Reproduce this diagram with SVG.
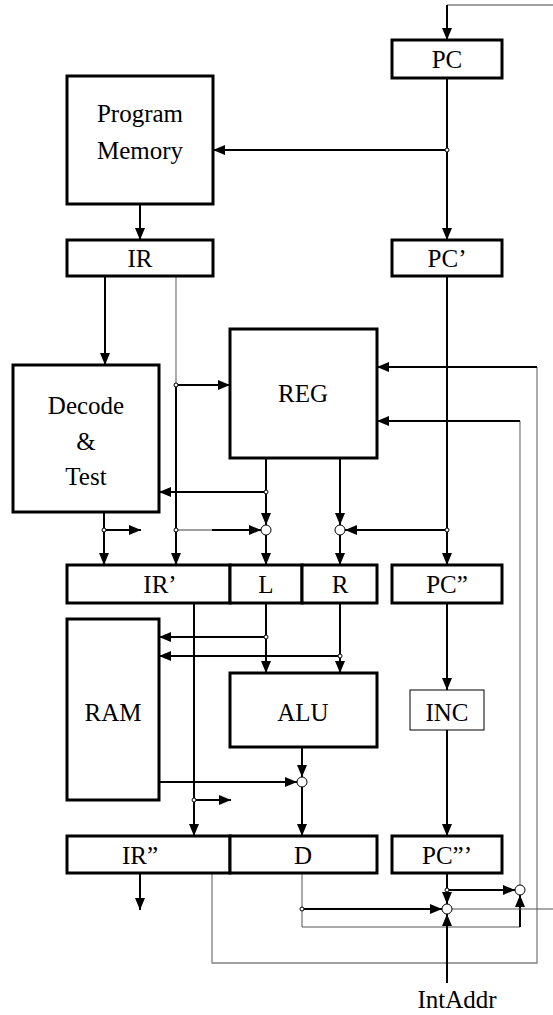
<svg xmlns="http://www.w3.org/2000/svg" width="553" height="1015" viewBox="0 0 553 1015">
<style>
.box{fill:#fff;stroke:#000;stroke-width:3}
.thinbox{fill:#fff;stroke:#000;stroke-width:1}
.w{fill:none;stroke:#000;stroke-width:2}
.g{fill:none;stroke:#808080;stroke-width:1.3}
.t{fill:none;stroke:#555;stroke-width:1}
.lbl{font-family:"Liberation Serif","Times New Roman",serif;font-size:25px;fill:#000;text-anchor:middle}
.dot{fill:#fff;stroke:#000;stroke-width:1}
.mux{fill:none;stroke:#000;stroke-width:1}
</style>
<defs>
<marker id="a" markerUnits="userSpaceOnUse" markerWidth="12" markerHeight="10" viewBox="0 0 12 10" refX="12" refY="5" orient="auto">
<path d="M0,0 L12,5 L0,10 z" fill="#000"/>
</marker>
</defs>
<rect width="553" height="1015" fill="#fff"/>
<g id="connectors">
<path class="g" d="M553,5 H447"/>
<path class="w" d="M447,5 V40" marker-end="url(#a)"/>
<path class="w" d="M447,78 V240" marker-end="url(#a)"/>
<path class="w" d="M447,150 H213" marker-end="url(#a)"/>
<path class="w" d="M140,204 V240" marker-end="url(#a)"/>
<path class="w" d="M105,276 V365" marker-end="url(#a)"/>
<path class="g" d="M176,276 V385"/>
<path class="w" d="M176,385 V565" marker-end="url(#a)"/>
<path class="w" d="M176,385 H230" marker-end="url(#a)"/>
<path class="g" d="M176,530 H212"/>
<path class="w" d="M212,530 H261" marker-end="url(#a)"/>
<path class="w" d="M266,458 V525" marker-end="url(#a)"/>
<path class="w" d="M266,535 V565" marker-end="url(#a)"/>
<path class="w" d="M266,492 H159" marker-end="url(#a)"/>
<path class="w" d="M340,458 V525" marker-end="url(#a)"/>
<path class="w" d="M340,535 V565" marker-end="url(#a)"/>
<path class="w" d="M447,276 V565" marker-end="url(#a)"/>
<path class="w" d="M447,530 H345" marker-end="url(#a)"/>
<path class="w" d="M104,512 V565" marker-end="url(#a)"/>
<path class="w" d="M104,530 H141" marker-end="url(#a)"/>
<path class="w" d="M266,603 V673" marker-end="url(#a)"/>
<path class="w" d="M266,637 H159" marker-end="url(#a)"/>
<path class="w" d="M340,603 V673" marker-end="url(#a)"/>
<path class="w" d="M340,656 H159" marker-end="url(#a)"/>
<path class="w" d="M194,603 V836" marker-end="url(#a)"/>
<path class="w" d="M194,800 H231" marker-end="url(#a)"/>
<path class="w" d="M302,747 V777" marker-end="url(#a)"/>
<path class="w" d="M159,782 H297" marker-end="url(#a)"/>
<path class="w" d="M302,787 V836" marker-end="url(#a)"/>
<path class="w" d="M447,603 V690" marker-end="url(#a)"/>
<path class="w" d="M447,730 V836" marker-end="url(#a)"/>
<path class="w" d="M140,873 V910" marker-end="url(#a)"/>
<path class="g" d="M212,873 V963 H537 V367"/>
<path class="w" d="M537,367 H377" marker-end="url(#a)"/>
<path class="t" d="M302,873 V927 H520"/>
<path class="w" d="M520,927 V895" marker-end="url(#a)"/>
<path class="w" d="M447,873 V904" marker-end="url(#a)"/>
<path class="w" d="M447,890 H515" marker-end="url(#a)"/>
<path class="g" d="M520,885 V421"/>
<path class="w" d="M520,421 H377" marker-end="url(#a)"/>
<path class="w" d="M302,909 H442" marker-end="url(#a)"/>
<path class="w" d="M447,983 V914" marker-end="url(#a)"/>
<path class="t" d="M452,909 H553"/>
<circle class="mux" cx="266" cy="530" r="5"/>
<circle class="mux" cx="340" cy="530" r="5"/>
<circle class="mux" cx="302" cy="782" r="5"/>
<circle class="mux" cx="447" cy="909" r="5"/>
<circle class="mux" cx="520" cy="890" r="5"/>
<circle class="dot" cx="447" cy="150" r="2"/>
<circle class="dot" cx="176" cy="385" r="2"/>
<circle class="dot" cx="176" cy="530" r="2"/>
<circle class="dot" cx="104" cy="530" r="2"/>
<circle class="dot" cx="266" cy="492" r="2"/>
<circle class="dot" cx="447" cy="530" r="2"/>
<circle class="dot" cx="266" cy="637" r="2"/>
<circle class="dot" cx="340" cy="656" r="2"/>
<circle class="dot" cx="194" cy="800" r="2"/>
<circle class="dot" cx="447" cy="890" r="2"/>
<circle class="dot" cx="302" cy="909" r="2"/>
</g>
<g id="PC"><rect class="box" x="392" y="40" width="110" height="38"/><text class="lbl" x="447" y="68">PC</text></g>
<g id="ProgramMemory"><rect class="box" x="67" y="76" width="146" height="128"/><text class="lbl" x="140" y="122">Program</text><text class="lbl" x="140" y="159">Memory</text></g>
<g id="IR"><rect class="box" x="67" y="240" width="146" height="36"/><text class="lbl" x="140" y="267">IR</text></g>
<g id="PC1"><rect class="box" x="392" y="240" width="110" height="36"/><text class="lbl" x="447" y="267">PC’</text></g>
<g id="Decode"><rect class="box" x="13" y="365" width="146" height="147"/><text class="lbl" x="86" y="414">Decode</text><text class="lbl" x="86" y="450">&amp;</text><text class="lbl" x="86" y="485">Test</text></g>
<g id="REG"><rect class="box" x="230" y="329" width="147" height="129"/><text class="lbl" x="303" y="402">REG</text></g>
<g id="IR1"><rect class="box" x="67" y="565" width="163" height="38"/><text class="lbl" x="160" y="593">IR’</text></g>
<g id="L"><rect class="box" x="230" y="565" width="72" height="38"/><text class="lbl" x="266" y="593">L</text></g>
<g id="R"><rect class="box" x="302" y="565" width="75" height="38"/><text class="lbl" x="340" y="593">R</text></g>
<g id="PC2"><rect class="box" x="392" y="565" width="110" height="38"/><text class="lbl" x="447" y="593">PC”</text></g>
<g id="RAM"><rect class="box" x="67" y="619" width="92" height="181"/><text class="lbl" x="113" y="721">RAM</text></g>
<g id="ALU"><rect class="box" x="230" y="673" width="147" height="74"/><text class="lbl" x="303" y="721">ALU</text></g>
<g id="INC"><rect class="thinbox" x="410" y="690" width="74" height="40"/><text class="lbl" x="447" y="721">INC</text></g>
<g id="IR2"><rect class="box" x="67" y="836" width="163" height="37"/><text class="lbl" x="140" y="864">IR”</text></g>
<g id="D"><rect class="box" x="230" y="836" width="147" height="37"/><text class="lbl" x="303" y="864">D</text></g>
<g id="PC3"><rect class="box" x="392" y="836" width="110" height="37"/><text class="lbl" x="447" y="864">PC”’</text></g>
<g id="IntAddr"><text class="lbl" x="457" y="1008">IntAddr</text></g>
</svg>
